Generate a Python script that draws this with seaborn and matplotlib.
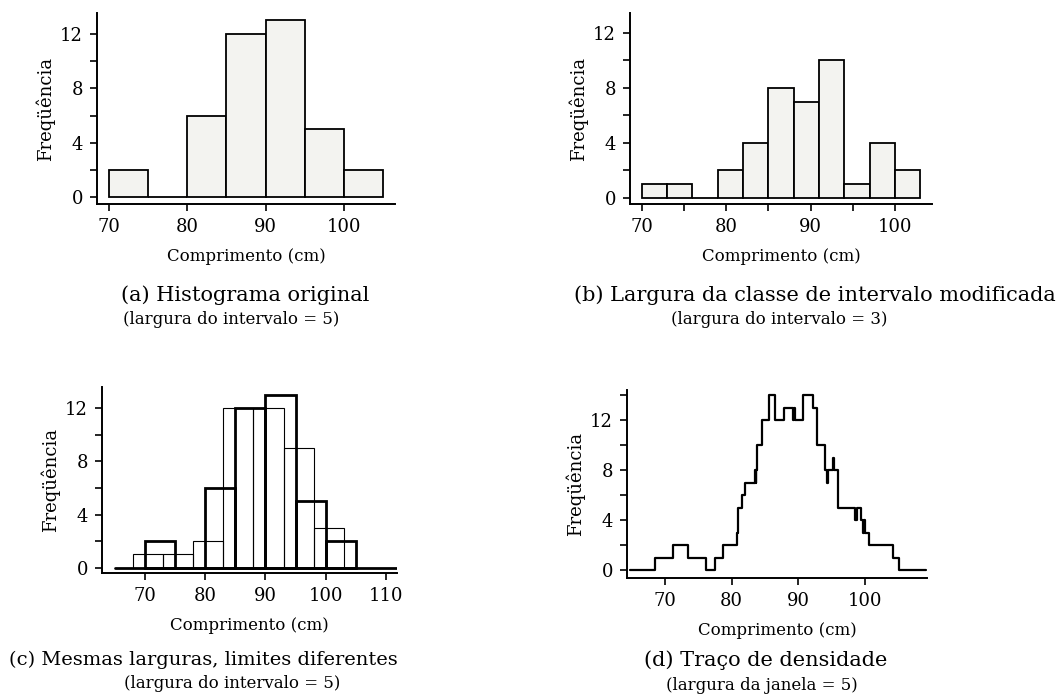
import matplotlib
matplotlib.use("Agg")
import matplotlib.pyplot as plt
import seaborn as sns
import numpy as np

# histogram data (counts per bin)
edges_a = [70, 75, 80, 85, 90, 95, 100, 105]
counts_a = [2, 0, 6, 12, 13, 5, 2]

edges_b = [70, 73, 76, 79, 82, 85, 88, 91, 94, 97, 100, 103]
counts_b = [1, 1, 0, 2, 4, 8, 7, 10, 1, 4, 2]

# panel (c): shifted bins overlaid on the original ones
edges_c_shift = [68, 73, 78, 83, 88, 93, 98, 103]
counts_c_shift = [1, 1, 2, 12, 12, 9, 3]
baseline_c = [65, 112]

# panel (d): density trace, window width 5 (step starts and heights)
trace_x = [64.75, 68.5, 71.25, 73.5, 76.15, 77.5, 78.75, 80.75, 81.0, 81.5, 82.0,
           83.5, 83.6, 83.7, 83.85, 84.5, 85.65, 86.5, 87.85, 89.15, 89.3, 89.45,
           90.75, 92.25, 92.75, 94.0, 94.3, 94.45, 95.15, 95.35, 96.0, 98.5, 98.85,
           99.35, 99.65, 99.8, 100.0, 100.65, 104.15, 105.15, 109.15]
trace_y = [0, 1, 2, 1, 0, 1, 2, 3, 5, 6, 7,
           8, 7, 8, 10, 12, 14, 12, 13, 12, 13, 12,
           14, 13, 10, 8, 7, 8, 9, 8, 5, 4, 5,
           4, 3, 4, 3, 2, 1, 0, 0]

sns.set_style("ticks")
plt.rcParams["font.family"] = ["DejaVu Serif"]
plt.rcParams["axes.linewidth"] = 1.4
plt.rcParams["axes.labelcolor"] = "black"
plt.rcParams["text.color"] = "black"
plt.rcParams["xtick.major.width"] = 1.2
plt.rcParams["ytick.major.width"] = 1.2
plt.rcParams["xtick.major.size"] = 5
plt.rcParams["ytick.major.size"] = 5

W, H = 1064, 697
fig = plt.figure(figsize=(W / 100, H / 100), dpi=100)


def px_axes(l, t, r, b):
    return fig.add_axes([l / W, 1 - b / H, (r - l) / W, (b - t) / H])


def centers(edges):
    e = np.asarray(edges, dtype=float)
    return (e[:-1] + e[1:]) / 2


def style(ax, xlim, ylim, xticks, xlabels, ytop):
    ax.set_xlim(*xlim)
    ax.set_ylim(*ylim)
    ax.set_xticks(xticks)
    ax.set_xticklabels(xlabels, fontsize=13)
    yt = list(range(0, ytop + 1, 2))
    ax.set_yticks(yt)
    ax.set_yticklabels([str(v) if v % 4 == 0 else "" for v in yt], fontsize=13)
    ax.set_xlabel("Comprimento (cm)", fontsize=12, labelpad=9, color="black")
    ax.set_ylabel("Freqüência", fontsize=13, labelpad=4, color="black")
    sns.despine(ax=ax)
    ax.spines[["left", "bottom"]].set_color("black")
    ax.tick_params(colors="black", pad=5)


fill = "#f3f3f0"

# (a)
ax = px_axes(97, 13, 395, 204)
sns.histplot(x=centers(edges_a), weights=counts_a, bins=edges_a, ax=ax,
             color=fill, alpha=1, edgecolor="black", linewidth=1.3)
style(ax, (68.5, 106.5), (-0.5, 13.55), [70, 80, 90, 100], ["70", "80", "90", "100"], 12)

# (b)
ax = px_axes(630, 13, 932, 204)
sns.histplot(x=centers(edges_b), weights=counts_b, bins=edges_b, ax=ax,
             color=fill, alpha=1, edgecolor="black", linewidth=1.3)
style(ax, (68.6, 104.4), (-0.44, 13.45), [70, 75, 80, 85, 90, 95, 100],
      ["70", "", "80", "", "90", "", "100"], 12)

# (c)
ax = px_axes(102, 387, 397, 573)
sns.histplot(x=centers(edges_c_shift), weights=counts_c_shift, bins=edges_c_shift, ax=ax,
             fill=False, color="black", linewidth=0.8, element="bars")
sns.histplot(x=centers(edges_a), weights=counts_a, bins=edges_a, ax=ax,
             fill=False, color="black", linewidth=2.0, element="bars")
sns.lineplot(x=baseline_c, y=[0, 0], ax=ax, color="black", linewidth=2.0)
style(ax, (62.9, 111.8), (-0.4, 13.6), [70, 80, 90, 100, 110],
      ["70", "80", "90", "100", "110"], 12)

# (d)
ax = px_axes(627, 390, 927, 578)
sns.lineplot(x=trace_x, y=trace_y, ax=ax, estimator=None, sort=False,
             drawstyle="steps-post", color="black", linewidth=1.6)
style(ax, (64.3, 109.3), (-0.64, 14.4), [70, 80, 90, 100], ["70", "80", "90", "100"], 14)

# captions
cap = dict(ha="center", va="center", color="black")
fig.text(245 / W, 1 - 295 / H, "(a) Histograma original", fontsize=15, **cap)
fig.text(231 / W, 1 - 320 / H, "(largura do intervalo = 5)", fontsize=12, **cap)
fig.text(815 / W, 1 - 295 / H, "(b) Largura da classe de intervalo modificada", fontsize=15, **cap)
fig.text(779 / W, 1 - 320 / H, "(largura do intervalo = 3)", fontsize=12, **cap)
fig.text(203 / W, 1 - 660 / H, "(c) Mesmas larguras, limites diferentes", fontsize=14, **cap)
fig.text(232 / W, 1 - 684 / H, "(largura do intervalo = 5)", fontsize=12, **cap)
fig.text(766 / W, 1 - 660 / H, "(d) Traço de densidade", fontsize=15, **cap)
fig.text(762 / W, 1 - 685 / H, "(largura da janela = 5)", fontsize=12, **cap)

fig.savefig("out.png", dpi=100, facecolor="white")
